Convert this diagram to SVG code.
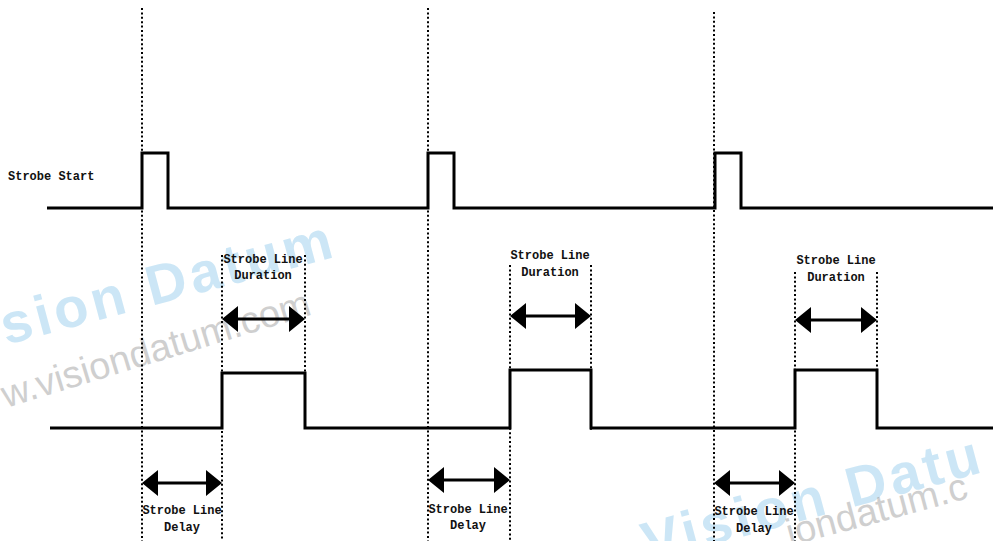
<svg xmlns="http://www.w3.org/2000/svg" width="993" height="541" viewBox="0 0 993 541">
<style>
.sig{fill:none;stroke:#000;stroke-width:3;stroke-linejoin:miter}
.dot{fill:none;stroke:#000;stroke-width:2;stroke-dasharray:2 2.4}
.arr{stroke:#000;stroke-width:3}
.head{fill:#000}
.lbl{font-family:"Liberation Mono","DejaVu Sans Mono",monospace;font-weight:bold;font-size:12px;fill:#111}
.wmb{font-family:"Liberation Sans",Arial,sans-serif;font-weight:bold;font-size:56px;fill:#4aa9e0;opacity:0.28;letter-spacing:4px}
.wmg{font-family:"Liberation Sans",Arial,sans-serif;font-size:38px;fill:#777;opacity:0.35}
</style>
<rect width="993" height="541" fill="#fff"/>
<g id="watermark">
<text class="wmb" transform="translate(6,345) rotate(-15)">sion Datum</text>
<text class="wmg" transform="translate(6,408) rotate(-17)">w.visiondatum.com</text>
<text class="wmb" transform="translate(648,562) rotate(-15)">Vision Datu</text>
<text class="wmg" transform="translate(790,546) rotate(-15)">iondatum.c</text>
</g>
<g id="guides">
<line class="dot" x1="142" y1="8" x2="142" y2="541"/>
<line class="dot" x1="428" y1="8" x2="428" y2="541"/>
<line class="dot" x1="714" y1="12" x2="714" y2="541"/>
<line class="dot" x1="222" y1="255" x2="222" y2="541"/>
<line class="dot" x1="305" y1="255" x2="305" y2="430"/>
<line class="dot" x1="510" y1="265" x2="510" y2="541"/>
<line class="dot" x1="591" y1="265" x2="591" y2="430"/>
<line class="dot" x1="795" y1="272" x2="795" y2="541"/>
<line class="dot" x1="877" y1="272" x2="877" y2="430"/>
</g>
<g id="strobe-start">
<path class="sig" d="M47,208 H142 V153 H168 V208 H428 V153 H454 V208 H715 V153 H741 V208 H993"/>
<text class="lbl" x="8" y="180">Strobe Start</text>
</g>
<g id="strobe-line">
<path class="sig" d="M50,428 H222 V373 H305 V428 H510 V370 H591 V428 H795 V370 H877 V428 H993"/>
</g>
<g id="connectors">
<g id="dur1"><line class="arr" x1="234" y1="319" x2="293" y2="319"/><path class="head" d="M222,319 L238,306 L238,332 Z M305,319 L289,306 L289,332 Z"/></g>
<g id="dur2"><line class="arr" x1="522" y1="316" x2="579" y2="316"/><path class="head" d="M510,316 L526,303 L526,329 Z M591,316 L575,303 L575,329 Z"/></g>
<g id="dur3"><line class="arr" x1="807" y1="320" x2="865" y2="320"/><path class="head" d="M795,320 L811,307 L811,333 Z M877,320 L861,307 L861,333 Z"/></g>
<g id="del1"><line class="arr" x1="154" y1="483" x2="210" y2="483"/><path class="head" d="M142,483 L158,470 L158,496 Z M222,483 L206,470 L206,496 Z"/></g>
<g id="del2"><line class="arr" x1="440" y1="480" x2="498" y2="480"/><path class="head" d="M428,480 L444,467 L444,493 Z M510,480 L494,467 L494,493 Z"/></g>
<g id="del3"><line class="arr" x1="726" y1="483" x2="783" y2="483"/><path class="head" d="M714,483 L730,470 L730,496 Z M795,483 L779,470 L779,496 Z"/></g>
</g>
<g id="labels">
<text class="lbl" text-anchor="middle" x="263" y="263">Strobe Line</text>
<text class="lbl" text-anchor="middle" x="263" y="279">Duration</text>
<text class="lbl" text-anchor="middle" x="550" y="259">Strobe Line</text>
<text class="lbl" text-anchor="middle" x="550" y="276">Duration</text>
<text class="lbl" text-anchor="middle" x="836" y="264">Strobe Line</text>
<text class="lbl" text-anchor="middle" x="836" y="281">Duration</text>
<text class="lbl" text-anchor="middle" x="182" y="514">Strobe Line</text>
<text class="lbl" text-anchor="middle" x="182" y="531">Delay</text>
<text class="lbl" text-anchor="middle" x="468" y="513">Strobe Line</text>
<text class="lbl" text-anchor="middle" x="468" y="529">Delay</text>
<text class="lbl" text-anchor="middle" x="754" y="515">Strobe Line</text>
<text class="lbl" text-anchor="middle" x="754" y="532">Delay</text>
</g>
</svg>
